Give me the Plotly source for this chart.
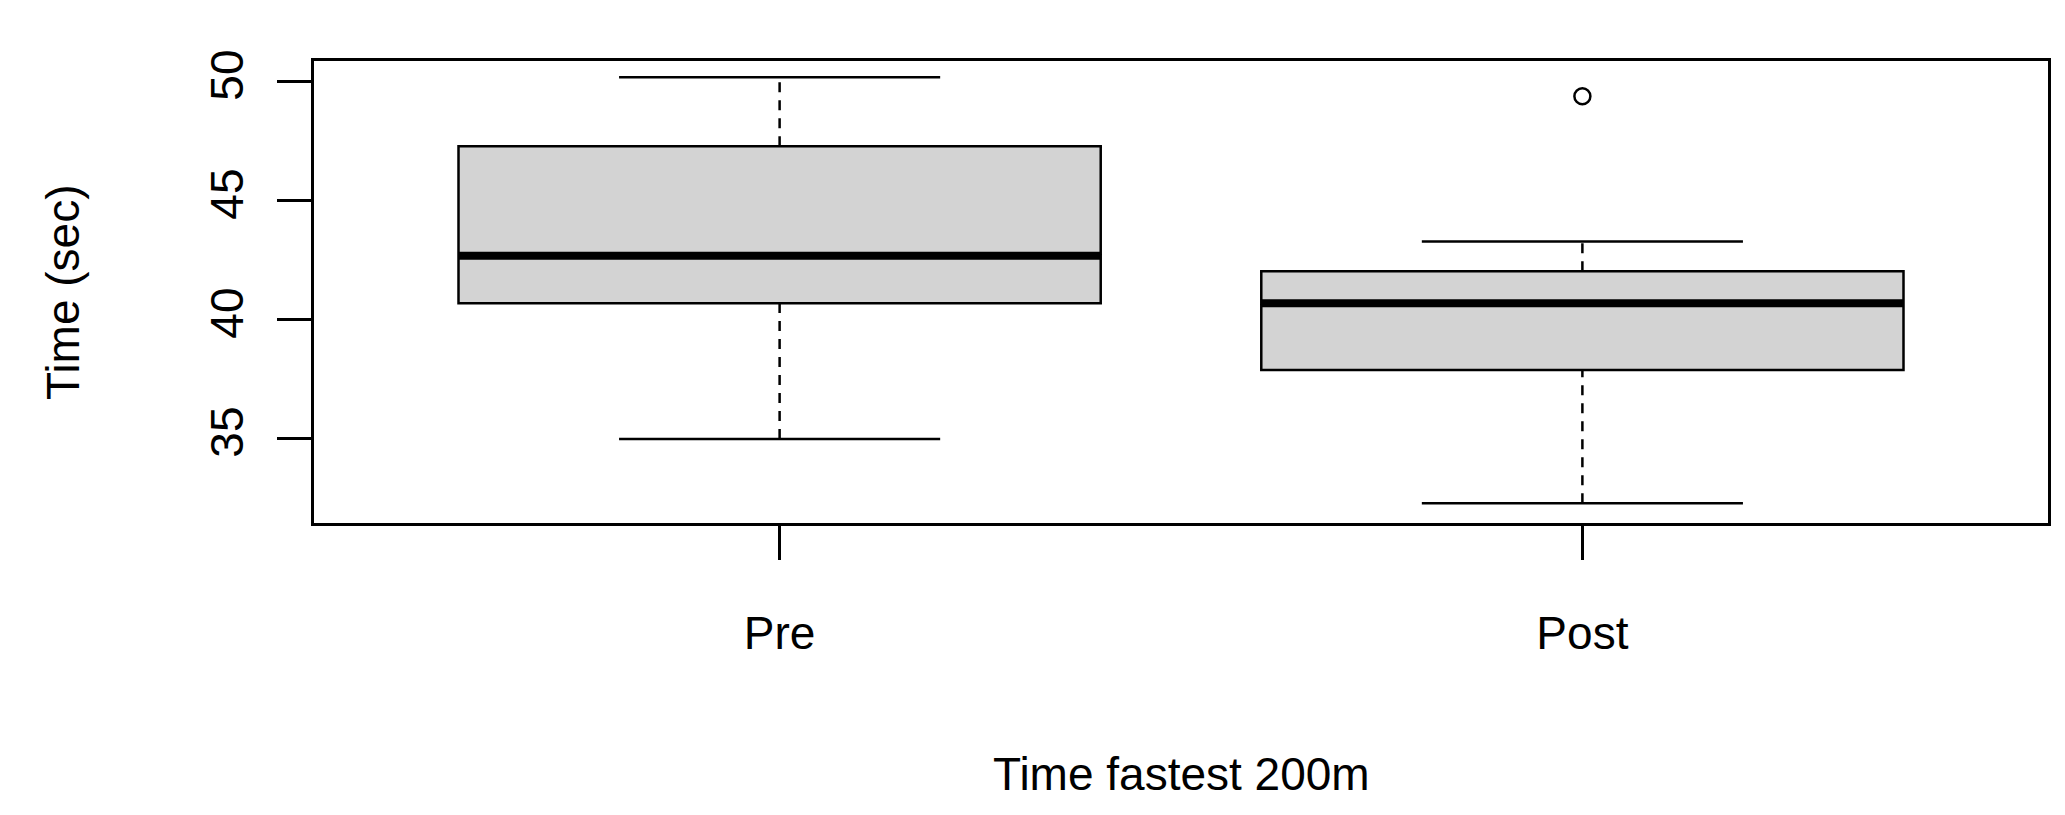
import plotly.graph_objects as go

groups = ["Pre", "Post"]
xpos = [1, 2]
lower_whisker = [35.0, 32.3]
q1 = [40.7, 37.9]
median = [42.7, 40.7]
q3 = [47.3, 42.05]
upper_whisker = [50.2, 43.3]
outlier_x = [2]
outlier_y = [49.4]

fig = go.Figure()
font = "Liberation Sans, Arial, sans-serif"
for i in range(2):
    x = xpos[i]
    fig.add_trace(go.Box(x=[x], q1=[q1[i]], median=[median[i]], q3=[q3[i]],
                         lowerfence=[q1[i]], upperfence=[q3[i]], width=0.8,
                         fillcolor="#d3d3d3", line=dict(color="black", width=2.5),
                         boxpoints=False, hoverinfo="skip", showlegend=False))
    fig.add_trace(go.Scatter(x=[x, x, None, x, x], y=[lower_whisker[i], q1[i], None, q3[i], upper_whisker[i]],
                             mode="lines", line=dict(color="black", width=2.5, dash="10px,8px"), showlegend=False))
    fig.add_trace(go.Scatter(x=[x-0.2, x+0.2, None, x-0.2, x+0.2],
                             y=[lower_whisker[i], lower_whisker[i], None, upper_whisker[i], upper_whisker[i]],
                             mode="lines", line=dict(color="black", width=2.5), showlegend=False))
    fig.add_trace(go.Scatter(x=[x-0.4, x+0.4], y=[median[i], median[i]], mode="lines",
                             line=dict(color="black", width=8), showlegend=False))
fig.add_trace(go.Scatter(x=outlier_x, y=outlier_y, mode="markers",
                         marker=dict(symbol="circle-open", size=16, color="black", line=dict(width=2.5)),
                         showlegend=False))

fig.update_layout(
    width=2065, height=815, plot_bgcolor="white", paper_bgcolor="white",
    margin=dict(l=306, r=25, t=53, b=300),
    font=dict(family=font, size=46, color="black"),
    xaxis=dict(range=[0.42, 2.58], tickvals=xpos, ticktext=groups, ticks="outside", ticklen=34,
               tickwidth=2.5, tickcolor="black", showline=True, linecolor="black", linewidth=2.5,
               mirror=True, showgrid=False, zeroline=False, ticklabelstandoff=34),
    yaxis=dict(range=[31.47, 50.88], tickvals=[35, 40, 45, 50], ticks="outside", ticklen=34,
               tickwidth=2.5, tickcolor="black", tickangle=-90, showline=True, linecolor="black",
               linewidth=2.5, mirror=True, showgrid=False, zeroline=False, ticklabelstandoff=16),
    annotations=[
        dict(text="Time fastest 200m", x=0.5, y=-(766-515)/(815-53-300), xref="paper", yref="paper",
             showarrow=False, yanchor="middle", font=dict(size=46)),
        dict(text="Time (sec)", x=-(306-55)/(2065-306-25), xref="paper", y=0.5, yref="paper",
             showarrow=False, textangle=-90, xanchor="center", yanchor="middle", font=dict(size=46)),
    ],
)
fig.write_html("out.html")
